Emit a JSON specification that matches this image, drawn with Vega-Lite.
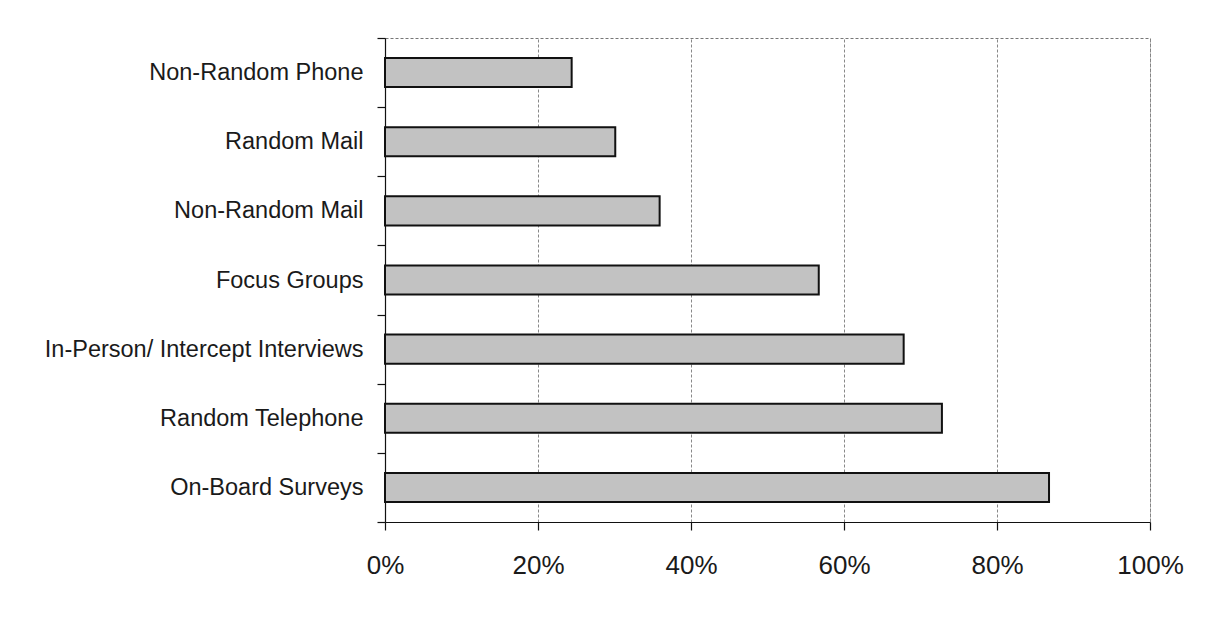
{
  "$schema": "https://vega.github.io/schema/vega-lite/v6.json",
  "autosize": {"type": "none"},
  "width": 765,
  "height": 484,
  "padding": {"left": 385, "top": 38, "right": 68, "bottom": 98},
  "background": "white",
  "config": {
    "font": "Liberation Sans",
    "view": {"stroke": "#777777", "strokeDash": [3, 2], "strokeWidth": 1}
  },
  "data": {
    "values": [
      {"method": "Non-Random Phone", "share": 0.244},
      {"method": "Random Mail", "share": 0.301},
      {"method": "Non-Random Mail", "share": 0.359},
      {"method": "Focus Groups", "share": 0.567},
      {"method": "In-Person/ Intercept Interviews", "share": 0.678},
      {"method": "Random Telephone", "share": 0.728},
      {"method": "On-Board Surveys", "share": 0.868}
    ]
  },
  "mark": {"type": "bar", "fill": "#c2c2c2", "stroke": "#111111", "strokeWidth": 2, "height": {"band": 0.42}},
  "encoding": {
    "y": {
      "field": "method",
      "type": "nominal",
      "sort": null,
      "title": null,
      "scale": {"paddingInner": 0, "paddingOuter": 0},
      "axis": {
        "tickBand": "extent",
        "tickSize": 8,
        "tickColor": "#111111",
        "tickWidth": 1.2,
        "domainColor": "#111111",
        "domainWidth": 1.2,
        "labelFontSize": 23.5,
        "labelColor": "#1a1a1a",
        "labelPadding": 14,
        "labelLimit": 400
      }
    },
    "x": {
      "field": "share",
      "type": "quantitative",
      "title": null,
      "scale": {"domain": [0, 1], "nice": false},
      "axis": {
        "format": ".0%",
        "values": [0, 0.2, 0.4, 0.6, 0.8, 1],
        "grid": true,
        "gridColor": "#888888",
        "gridDash": [3, 2],
        "gridWidth": 1,
        "tickSize": 8,
        "tickColor": "#111111",
        "tickWidth": 1.2,
        "domainColor": "#111111",
        "domainWidth": 1.2,
        "labelFontSize": 26,
        "labelColor": "#1a1a1a",
        "labelPadding": 22,
        "labelFlush": false
      }
    }
  }
}
